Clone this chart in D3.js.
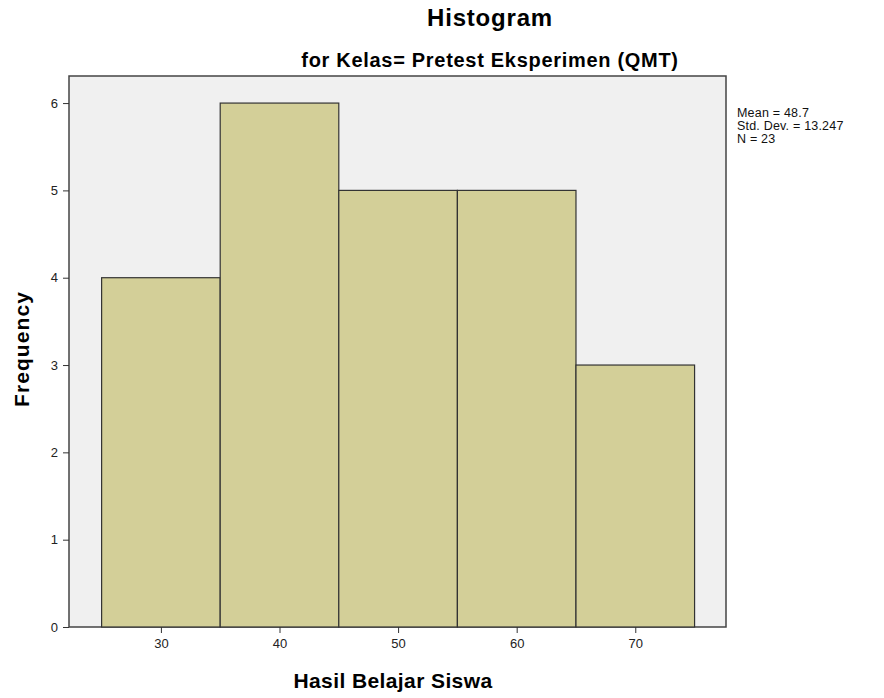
<!DOCTYPE html>
<html><head><meta charset="utf-8">
<script src="https://cdn.jsdelivr.net/npm/d3@7/dist/d3.min.js"></script>
<style>body{margin:0;background:#fff;} text{font-family:Arial,"Liberation Sans",sans-serif;}</style>
</head><body>
<svg id="c" width="884" height="698"></svg>
<script>
const binStarts = [25, 35, 45, 55, 65];
const binWidth = 10;
const counts = [4, 6, 5, 5, 3];
const xTicks = [30, 40, 50, 60, 70];
const yTicks = [0, 1, 2, 3, 4, 5, 6];
const statsLines = ["Mean = 48.7", "Std. Dev. = 13.247", "N = 23"];

const svg = d3.select("#c");
const L = 69, R = 726, T = 76, B = 627;
const x = d3.scaleLinear().domain([22.25, 77.65]).range([L, R]);
const y = d3.scaleLinear().domain([0, 6.31]).range([B, T]);

svg.append("rect").attr("x", L).attr("y", T).attr("width", R - L).attr("height", B - T)
  .attr("fill", "#f0f0f0").attr("stroke", "#444").attr("stroke-width", 1.5);

svg.append("g").selectAll("rect").data(counts).join("rect")
  .attr("x", (d, i) => x(binStarts[i]))
  .attr("width", (d, i) => x(binStarts[i] + binWidth) - x(binStarts[i]))
  .attr("y", d => y(d))
  .attr("height", d => y(0) - y(d))
  .attr("fill", "#d3cf98").attr("stroke", "#333").attr("stroke-width", 1.2);

const xa = svg.append("g").attr("transform", `translate(0,${B})`)
  .call(d3.axisBottom(x).tickValues(xTicks).tickSize(6).tickPadding(6).tickFormat(d3.format("d")));
const ya = svg.append("g").attr("transform", `translate(${L},0)`)
  .call(d3.axisLeft(y).tickValues(yTicks).tickSize(6).tickPadding(5).tickFormat(d3.format("d")));
[xa, ya].forEach(a => {
  a.select(".domain").remove();
  a.selectAll("line").attr("stroke", "#333");
  a.selectAll("text").attr("font-size", 13).attr("fill", "#222").style("font-family", "Arial, 'Liberation Sans', sans-serif");
});

svg.append("text").attr("x", 490).attr("y", 26).attr("text-anchor", "middle")
  .attr("font-size", 24).attr("font-weight", "bold").attr("letter-spacing", 0.8).text("Histogram");
svg.append("text").attr("x", 490).attr("y", 67).attr("text-anchor", "middle")
  .attr("font-size", 20).attr("font-weight", "bold").attr("letter-spacing", 0.7).text("for Kelas= Pretest Eksperimen (QMT)");
svg.append("text").attr("x", 393).attr("y", 688).attr("text-anchor", "middle")
  .attr("font-size", 21).attr("font-weight", "bold").attr("letter-spacing", 0.4).text("Hasil Belajar Siswa");
svg.append("text").attr("transform", "translate(29,349) rotate(-90)").attr("text-anchor", "middle")
  .attr("font-size", 21).attr("font-weight", "bold").attr("letter-spacing", 1.1).text("Frequency");

svg.append("g").selectAll("text").data(statsLines).join("text")
  .attr("x", 737).attr("y", (d, i) => 117 + i * 12.8)
  .attr("font-size", 12.5).attr("letter-spacing", 0.2).attr("fill", "#111").text(d => d);
</script>
</body></html>
